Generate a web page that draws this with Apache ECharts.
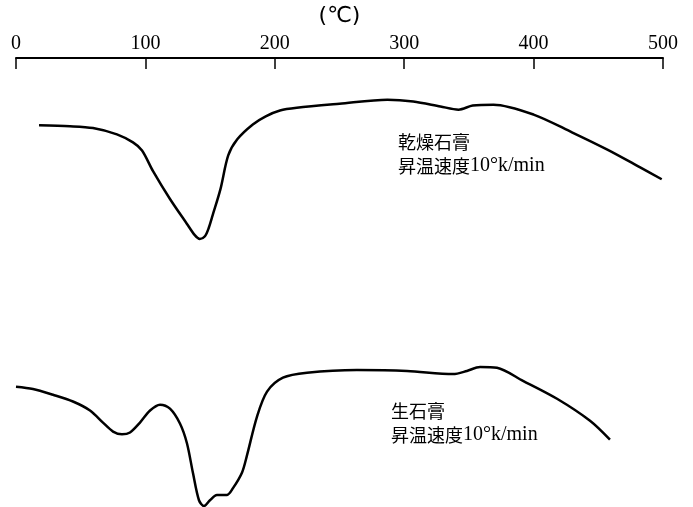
<!DOCTYPE html>
<html>
<head>
<meta charset="utf-8">
<title>DTA 石膏</title>
<script src="https://cdn.jsdelivr.net/npm/echarts@6/dist/echarts.min.js"></script>
<style>
  html, body { margin: 0; padding: 0; background: #fff; }
  #chart { width: 693px; height: 507px; }
</style>
</head>
<body>
<div id="chart"></div>
<script>
// Temperature axis ticks (°C)
const tempTicks = [0, 100, 200, 300, 400, 500];

// Dried gypsum: temperature (°C) and relative deflection
const driedTemp = [17.8, 41.7, 59.5, 78, 90.4, 97.4, 105.9, 119, 132, 138, 142, 146, 149, 152, 158, 164, 171, 183, 193, 204, 217, 250, 287, 307, 328, 342, 353, 369, 400, 430, 457, 482, 499];
const driedSignal = [85.0, 84.8, 84.4, 83.0, 81.2, 79.4, 74.8, 68.6, 63.1, 60.6, 59.7, 60.3, 62.2, 65.0, 70.8, 78.3, 81.9, 85.2, 87.0, 88.3, 88.9, 89.8, 90.7, 90.3, 89.2, 88.5, 89.4, 89.6, 87.4, 83.4, 79.6, 75.7, 73.0];

// Raw gypsum: temperature (°C) and relative deflection
const rawTemp = [0, 13.1, 28.6, 44.0, 57.2, 67.2, 75.0, 81.9, 88.1, 95.8, 103.6, 111.3, 119.0, 126.7, 132.1, 136.8, 141.4, 145.3, 149.9, 155.3, 163.1, 167.7, 174.7, 178.5, 186.2, 194.0, 206.3, 224.9, 263.5, 302.2, 337.7, 348.5, 358.6, 371.7, 391.8, 418.1, 443.6, 459.0];
const rawSignal = [26.8, 26.3, 25.0, 23.5, 21.5, 18.8, 16.8, 16.2, 16.6, 18.8, 21.5, 22.8, 21.9, 18.6, 14.2, 7.5, 1.5, 0.2, 1.5, 2.7, 2.7, 4.2, 7.7, 11.5, 20.1, 25.7, 28.8, 29.9, 30.5, 30.3, 29.6, 30.3, 31.2, 31.0, 28.1, 24.1, 19.2, 15.0];

// Annotation text: sample name, then heating rate (CJK part + Latin part)
const driedName = '乾燥石膏';
const rawName = '生石膏';
const rateCjk = '昇温速度';
const rateLatin = '10°k/min';

const pair = (xs, ys) => xs.map((x, i) => [x, ys[i]]);

const serifFont = "'Liberation Serif', 'Noto Sans CJK JP', serif";
const cjkFont = "'Noto Sans CJK JP', sans-serif";

const annotation = (name) => ({
  text: '{c|' + name + '}\n{c|' + rateCjk + '}{l|' + rateLatin + '}',
  fill: '#000',
  rich: {
    c: { fontSize: 18, fontFamily: cjkFont, lineHeight: 24, fill: '#000' },
    l: { fontSize: 20, fontFamily: serifFont, lineHeight: 24, fill: '#000' }
  }
});

const chart = echarts.init(document.getElementById('chart'), null, { renderer: 'canvas' });

chart.setOption({
  backgroundColor: '#ffffff',
  animation: false,
  grid: { left: 16, right: 30, top: 55, bottom: 0, containLabel: false },
  xAxis: {
    type: 'value',
    position: 'top',
    min: tempTicks[0],
    max: tempTicks[tempTicks.length - 1],
    interval: 100,
    name: '(℃)',
    nameLocation: 'middle',
    nameGap: 31,
    nameTextStyle: { color: '#000', fontSize: 22, fontFamily: "'DejaVu Sans', sans-serif" },
    axisLine: { show: true, onZero: false, lineStyle: { color: '#000', width: 2 } },
    axisTick: { show: true, inside: true, length: 11, lineStyle: { color: '#000', width: 1.5 } },
    axisLabel: { color: '#000', fontSize: 20, fontFamily: serifFont, margin: 4 },
    splitLine: { show: false }
  },
  yAxis: {
    type: 'value',
    min: 0,
    max: 100,
    show: false
  },
  series: [
    {
      name: driedName,
      type: 'line',
      data: pair(driedTemp, driedSignal),
      smooth: 0.3,
      symbol: 'none',
      clip: false,
      lineStyle: { color: '#000', width: 2.5 }
    },
    {
      name: rawName,
      type: 'line',
      data: pair(rawTemp, rawSignal),
      smooth: 0.3,
      symbol: 'none',
      clip: false,
      lineStyle: { color: '#000', width: 2.5 }
    }
  ],
  graphic: [
    { type: 'text', left: 398, top: 133, style: annotation(driedName) },
    { type: 'text', left: 391, top: 402, style: annotation(rawName) }
  ]
});
</script>
</body>
</html>
